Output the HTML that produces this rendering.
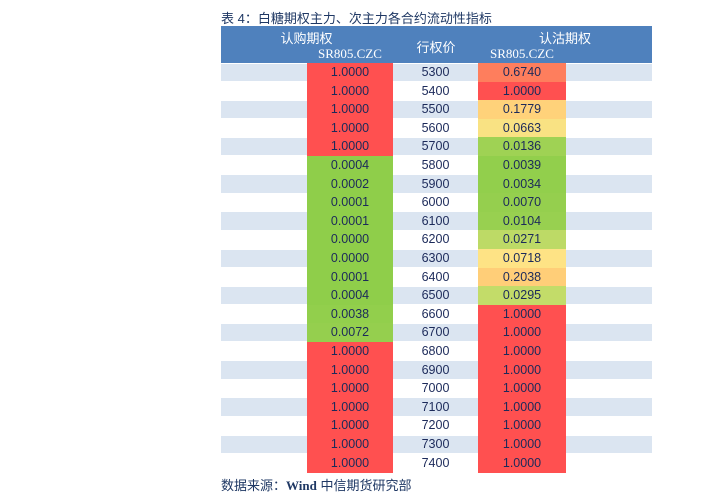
<!DOCTYPE html>
<html><head><meta charset="utf-8">
<style>
body{margin:0;width:708px;height:500px;background:#fff;position:relative;overflow:hidden;font-family:"Liberation Sans","Noto Sans CJK SC",sans-serif;}
#title{position:absolute;left:221px;top:8px;font-size:13px;color:#1f3864;}
#src{position:absolute;left:221px;top:475px;font-size:13px;color:#1f3864;}
.c{position:absolute;box-sizing:border-box;text-align:center;font-size:12.5px;color:#1c2a5a;}
.h{position:absolute;color:#fff;font-size:13px;text-align:center;}
</style></head><body>
<div id="title">表 4：白糖期权主力、次主力各合约流动性指标</div>
<div id="tbl">
<div style="position:absolute;left:221px;top:26px;width:431px;height:37px;background:#4f81bd"></div>
<div class="h" style="left:221px;top:28px;width:171px">认购期权</div>
<div class="h" style="left:307px;top:46px;width:86px;font-family:'Liberation Serif',serif">SR805.CZC</div>
<div class="h" style="left:393px;top:37px;width:86px">行权价</div>
<div class="h" style="left:478px;top:28px;width:174px">认沽期权</div>
<div class="h" style="left:478px;top:46px;width:88px;font-family:'Liberation Serif',serif">SR805.CZC</div>
</div>
<div id="src">数据来源：<b style="font-family:'Liberation Serif',serif">Wind</b>  中信期货研究部</div>
<script>
const strikes=[5300,5400,5500,5600,5700,5800,5900,6000,6100,6200,6300,6400,6500,6600,6700,6800,6900,7000,7100,7200,7300,7400];
const callValues=[1,1,1,1,1,0.0004,0.0002,0.0001,0.0001,0,0,0.0001,0.0004,0.0038,0.0072,1,1,1,1,1,1,1];
const putValues=[0.6740,1,0.1779,0.0663,0.0136,0.0039,0.0034,0.0070,0.0104,0.0271,0.0718,0.2038,0.0295,1,1,1,1,1,1,1,1,1];
const stops=[[0,[143,206,74]],[0.01,[151,208,79]],[0.03,[196,220,106]],[0.07,[254,227,133]],[0.2,[255,207,120]],[0.67,[254,127,93]],[1,[255,80,80]]];
function color(v){for(let i=1;i<stops.length;i++){if(v<=stops[i][0]){const a=stops[i-1],b=stops[i];const t=(v-a[0])/(b[0]-a[0]);return 'rgb('+a[1].map((x,k)=>Math.round(x+(b[1][k]-x)*t)).join(',')+')';}}return 'rgb(255,80,80)';}
const tbl=document.getElementById('tbl');
const top0=63,rh=18.6;
function cell(x,y,w,h,bg,txt,name){const d=document.createElement('div');d.className='c';d.style.cssText=`left:${x}px;top:${y}px;width:${w}px;height:${h}px;line-height:${h}px;background:${bg}`;d.textContent=txt;


tbl.appendChild(d);}
strikes.forEach((s,i)=>{const y=top0+i*rh;
cell(221,y+0.5,431,rh-1,i%2===0?'#dbe5f1':'#fff','','table-row-band');
cell(307,y,86,rh+0.5,color(callValues[i]),callValues[i].toFixed(4),'call-liquidity-cell');
cell(393,y,85,rh,'transparent',String(s),'strike-cell');
cell(478,y,88,rh+0.5,color(putValues[i]),putValues[i].toFixed(4),'put-liquidity-cell');});
</script>
</body></html>
